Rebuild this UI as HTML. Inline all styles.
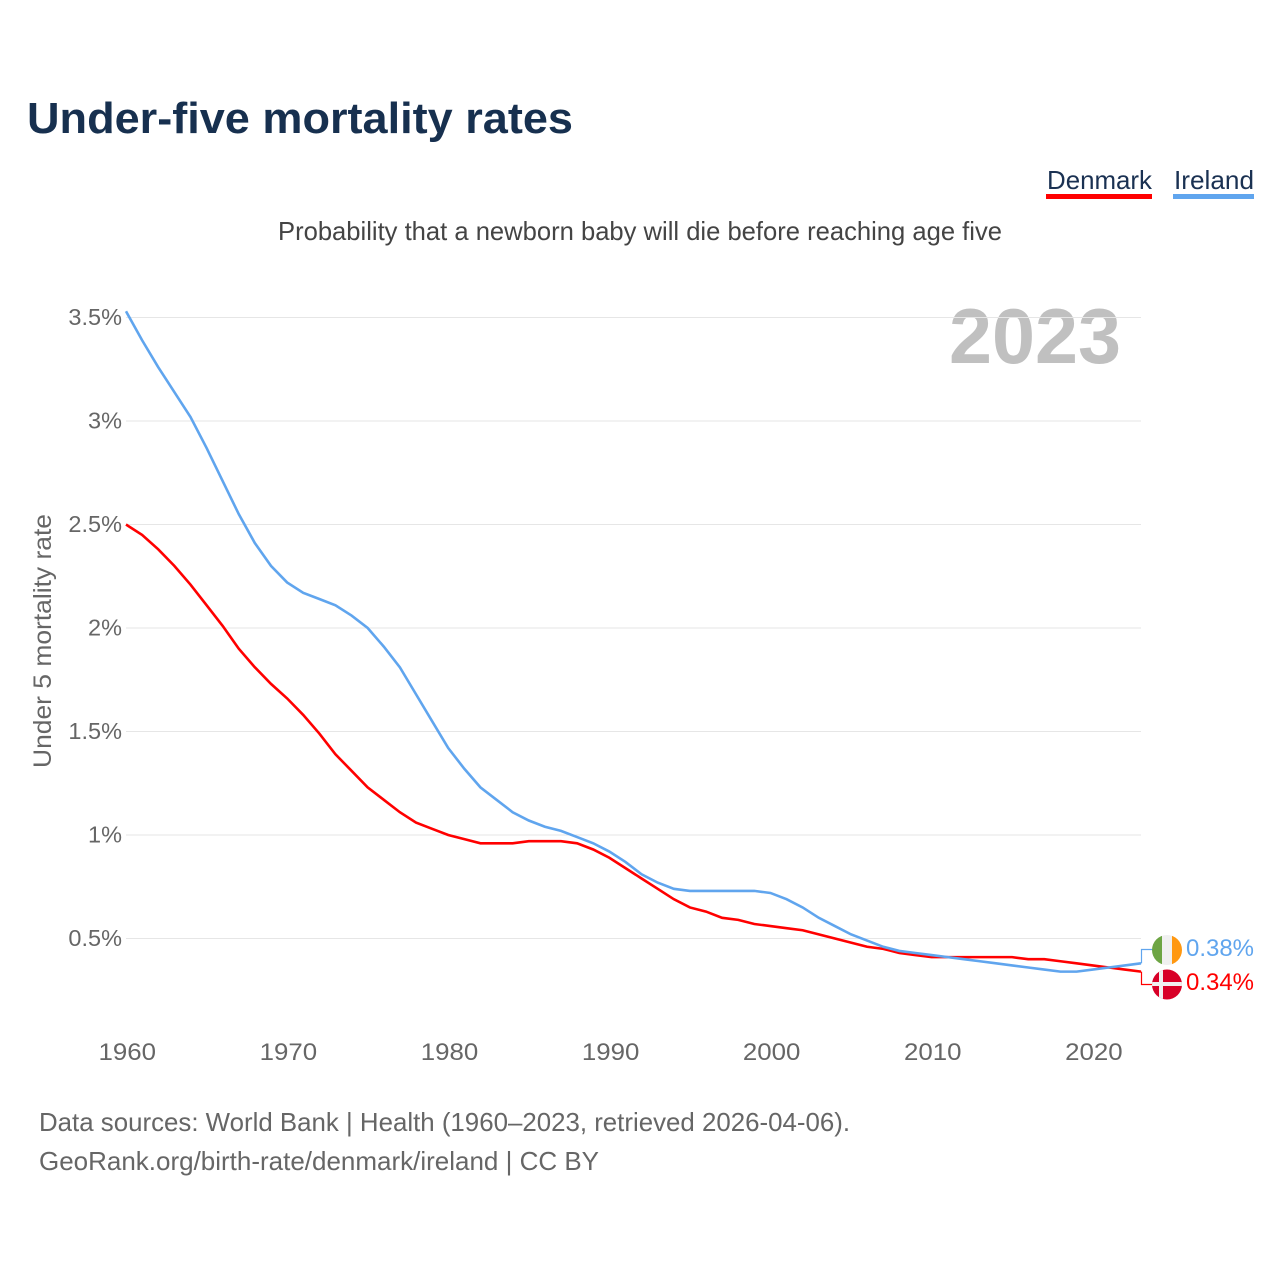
<!DOCTYPE html>
<html lang="en">
<head>
<meta charset="utf-8">
<title>Under-five mortality rates</title>
<style>
html,body{margin:0;padding:0;background:#fff;width:1280px;height:1280px;overflow:hidden}
svg{display:block}
text{font-family:"Liberation Sans",sans-serif}
</style>
</head>
<body>
<svg id="chart" width="1280" height="1280" viewBox="0 0 1280 1280" xmlns="http://www.w3.org/2000/svg">
  <defs>
    <clipPath id="clip-ie"><circle cx="1167" cy="950" r="15"/></clipPath>
    <clipPath id="clip-dk"><circle cx="1167" cy="984.5" r="15"/></clipPath>
  </defs>
  <text x="27" y="133" font-size="44" font-weight="700" fill="#17304f" textLength="546" lengthAdjust="spacingAndGlyphs">Under-five mortality rates</text>
  <text x="278" y="240" font-size="26" fill="#444" textLength="724" lengthAdjust="spacingAndGlyphs">Probability that a newborn baby will die before reaching age five</text>
  <g>
    <text x="1047" y="189" font-size="26" fill="#1a3152" textLength="105" lengthAdjust="spacingAndGlyphs">Denmark</text>
    <rect x="1046" y="194" width="106" height="5" fill="#ff0000"/>
    <text x="1174" y="189" font-size="26" fill="#1a3152" textLength="80" lengthAdjust="spacingAndGlyphs">Ireland</text>
    <rect x="1173" y="194" width="81" height="5" fill="#60a5ee"/>
  </g>
  <text x="949" y="363" font-size="78" font-weight="700" fill="#c0c0c0" textLength="172" lengthAdjust="spacingAndGlyphs">2023</text>
  <text transform="translate(51,768) rotate(-90)" font-size="25" fill="#666" textLength="254" lengthAdjust="spacingAndGlyphs">Under 5 mortality rate</text>
  <g id="grid"></g>
  <g id="yticks"></g>
  <g id="xticks"></g>
  <g id="connectors"></g>
  <g id="series"></g>
  <g clip-path="url(#clip-ie)">
    <rect x="1152" y="935" width="10" height="30" fill="#6da544"/>
    <rect x="1162" y="935" width="10" height="30" fill="#f0f0f0"/>
    <rect x="1172" y="935" width="10" height="30" fill="#ff9811"/>
  </g>
  <g clip-path="url(#clip-dk)">
    <rect x="1152" y="969.5" width="30" height="30" fill="#d80027"/>
    <rect x="1159" y="969.5" width="4" height="30" fill="#f0f0f0"/>
    <rect x="1152" y="982" width="30" height="4" fill="#f0f0f0"/>
  </g>
  <g id="endlabels"></g>
  <text x="39" y="1131" font-size="26" fill="#666" textLength="811" lengthAdjust="spacingAndGlyphs">Data sources: World Bank | Health (1960–2023, retrieved 2026-04-06).</text>
  <text x="39" y="1170" font-size="26" fill="#666" textLength="560" lengthAdjust="spacingAndGlyphs">GeoRank.org/birth-rate/denmark/ireland | CC BY</text>
</svg>
<script>
const startYear = 1960;
const yTickValues = [0.5, 1, 1.5, 2, 2.5, 3, 3.5];
const yTickLabels = ["0.5%", "1%", "1.5%", "2%", "2.5%", "3%", "3.5%"];
const xTickYears = [1960, 1970, 1980, 1990, 2000, 2010, 2020];
const denmarkValues = [2.50,2.45,2.38,2.30,2.21,2.11,2.01,1.90,1.81,1.73,1.66,1.58,1.49,1.39,1.31,1.23,1.17,1.11,1.06,1.03,1.00,0.98,0.96,0.96,0.96,0.97,0.97,0.97,0.96,0.93,0.89,0.84,0.79,0.74,0.69,0.65,0.63,0.60,0.59,0.57,0.56,0.55,0.54,0.52,0.50,0.48,0.46,0.45,0.43,0.42,0.41,0.41,0.41,0.41,0.41,0.41,0.40,0.40,0.39,0.38,0.37,0.36,0.35,0.34];
const irelandValues = [3.53,3.39,3.26,3.14,3.02,2.87,2.71,2.55,2.41,2.30,2.22,2.17,2.14,2.11,2.06,2.00,1.91,1.81,1.68,1.55,1.42,1.32,1.23,1.17,1.11,1.07,1.04,1.02,0.99,0.96,0.92,0.87,0.81,0.77,0.74,0.73,0.73,0.73,0.73,0.73,0.72,0.69,0.65,0.60,0.56,0.52,0.49,0.46,0.44,0.43,0.42,0.41,0.40,0.39,0.38,0.37,0.36,0.35,0.34,0.34,0.35,0.36,0.37,0.38];
const denmarkEndLabel = "0.34%";
const irelandEndLabel = "0.38%";

const NS = "http://www.w3.org/2000/svg";
const xScale = function (year) { return 126 + (year - 1960) * (1141 - 126) / 63; };
const yScale = function (value) { return 1042 - 207 * value; };
function make(tag, parent) {
  const el = document.createElementNS(NS, tag);
  document.getElementById(parent).appendChild(el);
  return el;
}

yTickValues.forEach(function (v, i) {
  const line = make("line", "grid");
  
  
  line.setAttribute("x1", 126);
  line.setAttribute("x2", 1141);
  line.setAttribute("y1", yScale(v));
  line.setAttribute("y2", yScale(v));
  line.setAttribute("stroke", "#e6e6e6");
  line.setAttribute("stroke-width", "1");
  const label = make("text", "yticks");
  
  
  label.setAttribute("x", 122);
  label.setAttribute("y", yScale(v) + 7.5);
  label.setAttribute("text-anchor", "end");
  label.setAttribute("font-size", "23.5");
  label.setAttribute("fill", "#666");
  label.textContent = yTickLabels[i];
});

xTickYears.forEach(function (year) {
  const label = make("text", "xticks");
  
  
  label.setAttribute("x", xScale(year) - 27.5);
  label.setAttribute("y", 1060);
  label.setAttribute("font-size", "24.5");
  label.setAttribute("fill", "#666");
  label.setAttribute("textLength", "57.5");
  label.setAttribute("lengthAdjust", "spacingAndGlyphs");
  label.textContent = String(year);
});

function pathFor(values) {
  return values.map(function (v, i) {
    return (i ? "L" : "M") + xScale(startYear + i).toFixed(2) + " " + yScale(v).toFixed(2);
  }).join(" ");
}

const denmarkLine = make("path", "series");


denmarkLine.setAttribute("d", pathFor(denmarkValues));
denmarkLine.setAttribute("fill", "none");
denmarkLine.setAttribute("stroke", "#ff0000");
denmarkLine.setAttribute("stroke-width", "2.6");

const irelandLine = make("path", "series");


irelandLine.setAttribute("d", pathFor(irelandValues));
irelandLine.setAttribute("fill", "none");
irelandLine.setAttribute("stroke", "#60a5ee");
irelandLine.setAttribute("stroke-width", "2.6");

const lastX = xScale(startYear + denmarkValues.length - 1);
const denmarkEndY = yScale(denmarkValues[denmarkValues.length - 1]);
const irelandEndY = yScale(irelandValues[irelandValues.length - 1]);

const denmarkConnector = make("path", "connectors");


denmarkConnector.setAttribute("d", "M" + (lastX + 0.5) + " " + denmarkEndY + " V984.5 H1153");
denmarkConnector.setAttribute("fill", "none");
denmarkConnector.setAttribute("stroke", "#ff0000");
denmarkConnector.setAttribute("stroke-width", "1.2");

const irelandConnector = make("path", "connectors");


irelandConnector.setAttribute("d", "M" + (lastX + 0.5) + " " + irelandEndY + " V949.5 H1153");
irelandConnector.setAttribute("fill", "none");
irelandConnector.setAttribute("stroke", "#60a5ee");
irelandConnector.setAttribute("stroke-width", "1.2");

const irelandLabel = make("text", "endlabels");


irelandLabel.setAttribute("x", 1186);
irelandLabel.setAttribute("y", 956);
irelandLabel.setAttribute("font-size", "24.5");
irelandLabel.setAttribute("fill", "#60a5ee");
irelandLabel.setAttribute("textLength", "68");
irelandLabel.setAttribute("lengthAdjust", "spacingAndGlyphs");
irelandLabel.textContent = irelandEndLabel;

const denmarkLabel = make("text", "endlabels");


denmarkLabel.setAttribute("x", 1186);
denmarkLabel.setAttribute("y", 990);
denmarkLabel.setAttribute("font-size", "24.5");
denmarkLabel.setAttribute("fill", "#ff0000");
denmarkLabel.setAttribute("textLength", "68");
denmarkLabel.setAttribute("lengthAdjust", "spacingAndGlyphs");
denmarkLabel.textContent = denmarkEndLabel;
</script>
</body>
</html>
